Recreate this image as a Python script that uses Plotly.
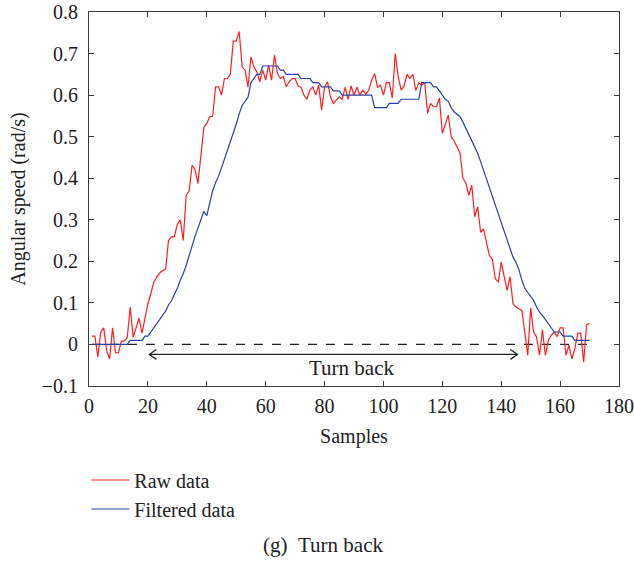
import plotly.graph_objects as go

samples = list(range(1, 171))

raw_data = [
    0.02, 0.02, -0.03, 0.03, 0.04, -0.015, -0.035, 0.04, -0.02, -0.02,
    0.008, 0.008, 0.017, 0.09, 0.017, 0.04, 0.063, 0.027, 0.066, 0.098,
    0.122, 0.15, 0.162, 0.172, 0.178, 0.18, 0.25, 0.259, 0.26, 0.289,
    0.30, 0.25, 0.359, 0.369, 0.431, 0.421, 0.387, 0.459, 0.522, 0.532,
    0.548, 0.549, 0.62, 0.62, 0.6, 0.64, 0.64, 0.65, 0.73, 0.73,
    0.753, 0.668, 0.66, 0.619, 0.692, 0.668, 0.656, 0.632, 0.66, 0.636,
    0.672, 0.636, 0.696, 0.652, 0.64, 0.645, 0.62, 0.632, 0.64, 0.64,
    0.622, 0.619, 0.6, 0.59, 0.612, 0.62, 0.6, 0.624, 0.564, 0.619,
    0.632, 0.596, 0.58, 0.588, 0.596, 0.59, 0.619, 0.59, 0.622, 0.6,
    0.619, 0.6, 0.612, 0.602, 0.612, 0.636, 0.652, 0.619, 0.624, 0.6,
    0.63, 0.63, 0.593, 0.7, 0.645, 0.612, 0.622, 0.65, 0.64, 0.65,
    0.611, 0.63, 0.624, 0.63, 0.556, 0.58, 0.572, 0.572, 0.593, 0.508,
    0.532, 0.552, 0.5, 0.49, 0.475, 0.46, 0.4, 0.388, 0.359, 0.383,
    0.307, 0.331, 0.27, 0.278, 0.245, 0.214, 0.205, 0.158, 0.15, 0.198,
    0.163, 0.13, 0.163, 0.098, 0.09, 0.086, 0.082, 0.03, -0.026, 0.088,
    0.03, 0.018, -0.026, 0.035, -0.026, 0.01, 0.022, 0.03, 0.019, 0.04,
    0.04, -0.026, -0.002, -0.035, -0.01, 0.027, 0.027, -0.043, 0.048, 0.05,
]

filtered_data = [
    0, 0, 0, 0, 0, 0, 0, 0, 0, 0,
    0, 0, 0, 0.01, 0.01, 0.01, 0.01, 0.01, 0.02, 0.02,
    0.03, 0.04, 0.05, 0.06, 0.07, 0.08, 0.095, 0.105, 0.12, 0.135,
    0.155, 0.17, 0.19, 0.215, 0.24, 0.26, 0.28, 0.3, 0.32, 0.31,
    0.34, 0.37, 0.39, 0.405, 0.425, 0.445, 0.465, 0.49, 0.51, 0.53,
    0.555, 0.575, 0.585, 0.595, 0.63, 0.64, 0.65, 0.65, 0.67, 0.67,
    0.67, 0.67, 0.67, 0.67, 0.66, 0.66, 0.65, 0.65, 0.65, 0.65,
    0.65, 0.64, 0.64, 0.64, 0.64, 0.63, 0.63, 0.63, 0.62, 0.62,
    0.62, 0.62, 0.61, 0.61, 0.61, 0.6, 0.6, 0.6, 0.6, 0.6,
    0.6, 0.6, 0.6, 0.6, 0.6, 0.6, 0.57, 0.57, 0.57, 0.57,
    0.57, 0.58, 0.58, 0.58, 0.58, 0.59, 0.59, 0.59, 0.59, 0.59,
    0.59, 0.59, 0.63, 0.63, 0.63, 0.63, 0.62, 0.62, 0.61, 0.6,
    0.59, 0.585, 0.57, 0.56, 0.555, 0.548, 0.535, 0.52, 0.508, 0.49,
    0.475, 0.46, 0.44, 0.419, 0.395, 0.375, 0.355, 0.335, 0.315, 0.29,
    0.27, 0.25, 0.23, 0.21, 0.198, 0.18, 0.155, 0.135, 0.125, 0.115,
    0.106, 0.09, 0.078, 0.07, 0.06, 0.05, 0.04, 0.03, 0.03, 0.03,
    0.02, 0.02, 0.02, 0.02, 0.01, 0.01, 0.01, 0.01, 0.01, 0.01,
]

zero_line_x = [1, 170]
zero_line_y = [0, 0]

turn_start = 20.5
turn_end = 145.5
arrow_y = -0.024
label_x = 89
label_y = -0.056
annotation_text = "Turn back"
caption_text = "(g)\u2002Turn back"

x_ticks = list(range(0, 181, 20))
y_ticks = [round(-0.1 + 0.1 * k, 1) for k in range(10)]

FONT = "Liberation Serif, Times New Roman, serif"
AXIS_COLOR = "#3a3a3a"
TEXT_COLOR = "#222222"

fig = go.Figure()

fig.add_trace(go.Scatter(
    x=zero_line_x, y=zero_line_y, mode="lines",
    line=dict(color="#222222", width=1.2, dash="dash"),
    showlegend=False, hoverinfo="skip",
))
fig.add_trace(go.Scatter(
    x=samples, y=raw_data, mode="lines", name="Raw data",
    line=dict(color="#ff1f1f", width=1.2),
))
fig.add_trace(go.Scatter(
    x=samples, y=filtered_data, mode="lines", name="Filtered data",
    line=dict(color="#2643a6", width=1.2),
))

# double-headed arrow with open chevron heads
hx = 2.4
hy = 0.012
arrow_col = "#222222"
fig.add_shape(type="line", xref="x", yref="y",
              x0=turn_start, x1=turn_end, y0=arrow_y, y1=arrow_y,
              line=dict(color=arrow_col, width=1.3))
fig.add_shape(type="path", xref="x", yref="y",
              path=f"M {turn_start + hx},{arrow_y + hy} L {turn_start},{arrow_y} L {turn_start + hx},{arrow_y - hy}",
              line=dict(color=arrow_col, width=1.3))
fig.add_shape(type="path", xref="x", yref="y",
              path=f"M {turn_end - hx},{arrow_y + hy} L {turn_end},{arrow_y} L {turn_end - hx},{arrow_y - hy}",
              line=dict(color=arrow_col, width=1.3))

fig.add_annotation(x=label_x, y=label_y, xref="x", yref="y",
                   text=annotation_text, showarrow=False,
                   font=dict(family=FONT, size=21, color=TEXT_COLOR))

fig.add_annotation(x=0.4415, y=-0.425, xref="paper", yref="paper",
                   text=caption_text, showarrow=False,
                   xanchor="center", yanchor="middle",
                   font=dict(family=FONT, size=21, color=TEXT_COLOR))

axis_common = dict(
    showline=True, linecolor=AXIS_COLOR, linewidth=1.2, mirror="ticks",
    ticks="inside", ticklen=5, tickcolor=AXIS_COLOR, tickwidth=1,
    showgrid=False, zeroline=False, automargin=False,
    tickfont=dict(family=FONT, size=20, color=TEXT_COLOR),
)

fig.update_xaxes(
    range=[0, 180], tickvals=x_ticks, **axis_common,
    title=dict(text="Samples", font=dict(family=FONT, size=20, color=TEXT_COLOR), standoff=12),
    ticklabelstandoff=2,
)
fig.update_yaxes(
    range=[-0.1, 0.8], tickvals=y_ticks, **axis_common,
    title=dict(text="Angular speed (rad/s)", font=dict(family=FONT, size=20, color=TEXT_COLOR), standoff=10),
    ticklabelstandoff=6,
)

fig.update_layout(
    width=634, height=561,
    margin=dict(l=89, r=15, t=12, b=175),
    plot_bgcolor="white", paper_bgcolor="white",
    showlegend=True,
    legend=dict(
        x=-0.005, y=-0.1992, xanchor="left", yanchor="top",
        font=dict(family=FONT, size=20, color=TEXT_COLOR),
        bgcolor="rgba(0,0,0,0)", tracegroupgap=0, itemwidth=38,
    ),
)

fig.write_html("out.html")
